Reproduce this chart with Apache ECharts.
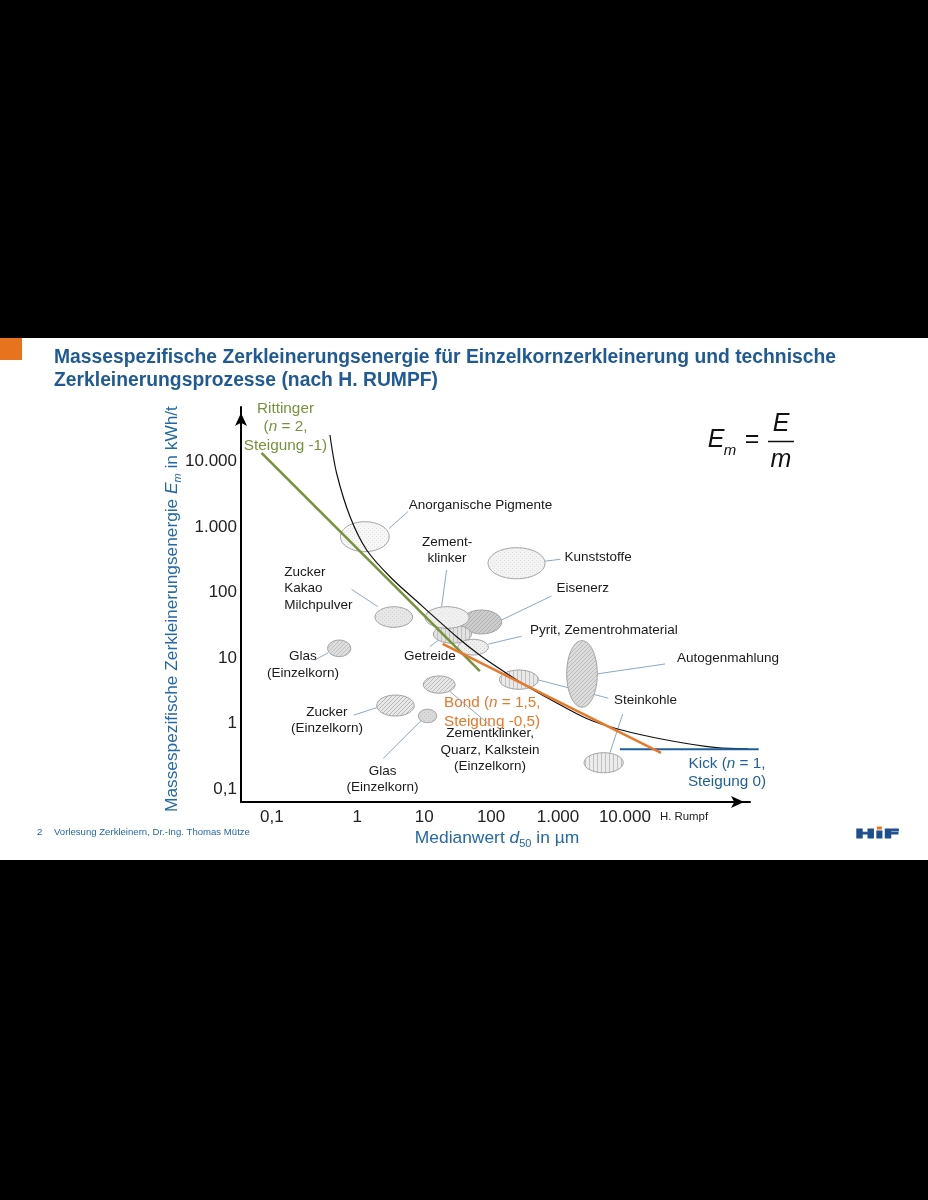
<!DOCTYPE html>
<html><head><meta charset="utf-8">
<script src="https://cdn.jsdelivr.net/npm/echarts@6/dist/echarts.min.js"></script>
<style>html,body{margin:0;padding:0;background:#000;}#c{width:928px;height:1200px;}</style>
</head><body><div id="c"></div>
<script>
// ---------------- data ----------------
const xTickValues = [0.1, 1, 10, 100, 1000, 10000];
const xTickLabels = ['0,1', '1', '10', '100', '1.000', '10.000'];
const yTickValues = [0.1, 1, 10, 100, 1000, 10000];
const yTickLabels = ['0,1', '1', '10', '100', '1.000', '10.000'];

// Rumpf curve (black)
const rumpfD = [0.39, 0.49, 0.78, 1.38, 3.08, 7.7, 30.6, 68, 171, 381, 760, 2680, 8300, 42000, 235000, 700000];
const rumpfE = [25400, 6670, 1436, 446, 174, 74, 21.1, 11.0, 5.82, 3.48, 2.34, 1.19, 0.81, 0.56, 0.427, 0.41];
// Rittinger (n = 2)
const rittD = [0.037, 68];
const rittE = [13500, 6.3];
// Bond (n = 1,5)
const bondD = [18.9, 34700];
const bondE = [16.4, 0.355];
// Kick (n = 1)
const kickD = [8400, 1000000];
const kickE = [0.404, 0.404];

// Material regions: median size range (µm) and energy range (kWh/t)
const materials = ['Anorganische Pigmente', 'Kunststoffe', 'Eisenerz', 'Getreide', 'Pyrit, Zementrohmaterial',
  'Zementklinker', 'Zucker, Kakao, Milchpulver', 'Glas (Einzelkorn)', 'Zucker (Einzelkorn)', 'Glas (Einzelkorn)',
  'Zementklinker, Quarz, Kalkstein (Einzelkorn)', 'Steinkohle', 'Autogenmahlung', 'Steinkohle'];
const dMin = [0.56, 90, 36, 13.7, 32, 10.3, 1.84, 0.36, 1.95, 8.2, 9.7, 133, 1350, 2450];
const dMax = [3.0, 640, 144, 51, 91, 47, 6.7, 0.8, 7.1, 15.4, 29, 508, 3870, 9460];
const eMin = [420, 162, 23.3, 16.8, 11.1, 28.4, 29.4, 10.5, 1.3, 1.03, 2.9, 3.33, 1.77, 0.177];
const eMax = [1205, 483, 54, 31.9, 19.3, 60.7, 60.7, 18.8, 2.72, 1.65, 5.31, 6.56, 18.4, 0.358];

// ---------------- layout / styles (kept separate from data) ----------------
const labelLayout = [
  {text: 'Anorganische Pigmente', dx: 44, dy: -31, align: 'left', leader: [24, -8, 43, -25]},
  {text: 'Kunststoffe', dx: 48, dy: -6, align: 'left', leader: [28, -2, 44, -4]},
  {text: 'Eisenerz', dx: 75, dy: -34, align: 'left', leader: [20, -2, 70, -26]},
  {text: 'Getreide', dx: -22.5, dy: 22.5, align: 'center', leader: [-14, 6, -22.5, 12.5]},
  {text: 'Pyrit, Zementrohmaterial', dx: 56.7, dy: -17, align: 'left', leader: [15, -3, 48.4, -11]},
  {text: 'Zement-\nklinker', dx: 0, dy: -67, align: 'center', leader: [-5.5, -11, -0.5, -47.5]},
  {text: 'Zucker\nKakao\nMilchpulver', dx: -109.6, dy: -28.3, align: 'left', leader: [-42.2, -27.7, -16, -10.3]},
  {text: 'Glas\n(Einzelkorn)', dx: -36.3, dy: 16.7, align: 'center', leader: [-24.3, 11.7, -11, 4.4]},
  {text: 'Zucker\n(Einzelkorn)', dx: -68.5, dy: 14.5, align: 'center', leader: [-41.5, 9.5, -17.8, 1.8]},
  {text: 'Glas\n(Einzelkorn)', dx: -45, dy: 63.2, align: 'center', leader: [-44.2, 42.3, -5.8, 4]},
  {text: 'Zementklinker,\nQuarz, Kalkstein\n(Einzelkorn)', dx: 50.8, dy: 65.3, align: 'center', leader: [10.8, 7, 52.5, 42]},
  {text: 'Steinkohle', dx: 95.2, dy: 20.3, align: 'left', leader: [19.5, 0.3, 89.5, 18.6]},
  {text: 'Autogenmahlung', dx: 95, dy: -16, align: 'left', leader: [14.7, 0, 83, -10]},
  {text: '', dx: 0, dy: 0, align: 'left', leader: [6.3, -10, 19, -48.7]}
];
const fillStyles = [
  {bg: '#f7f7f7', ink: '#e4e4e4', kind: 'dots'},
  {bg: '#f3f3f3', ink: '#e0e0e0', kind: 'dots'},
  {bg: '#cdcdcd', ink: '#b2b2b2', kind: 'diag'},
  {bg: '#e2e2e2', ink: '#c0c0c0', kind: 'vert'},
  {bg: '#eeeeee', ink: '#d4d4d4', kind: 'dots'},
  {bg: '#f0f0f0', ink: '#e2e2e2', kind: 'dots'},
  {bg: '#e7e7e7', ink: '#d4d4d4', kind: 'dots'},
  {bg: '#dedede', ink: '#c0c0c0', kind: 'diag'},
  {bg: '#e8e8e8', ink: '#b8b8b8', kind: 'diag'},
  {bg: '#d9d9d9', ink: '#c6c6c6', kind: 'dots'},
  {bg: '#e6e6e6', ink: '#bcbcbc', kind: 'diag'},
  {bg: '#e9e9e9', ink: '#c2c2c2', kind: 'vert'},
  {bg: '#dcdcdc', ink: '#bbbbbb', kind: 'diag'},
  {bg: '#ececec', ink: '#c0c0c0', kind: 'vert'}
];

const FONT = '"Liberation Sans", Arial, sans-serif';
const BLUE = '#2468a8';
const TITLE_BLUE = '#1f5a96';
const GREEN = '#76923c';
const ORANGE = '#e8782a';
const KICK_BLUE = '#1f5f99';

function makePattern(s) {
  const c = document.createElement('canvas');
  const n = 4;
  c.width = n; c.height = n;
  const g = c.getContext('2d');
  g.fillStyle = s.bg; g.fillRect(0, 0, n, n);
  g.strokeStyle = s.ink; g.fillStyle = s.ink; g.lineWidth = 1;
  if (s.kind === 'diag') {
    g.beginPath();
    g.moveTo(-1, 1); g.lineTo(1, -1);
    g.moveTo(0, n); g.lineTo(n, 0);
    g.moveTo(n - 1, n + 1); g.lineTo(n + 1, n - 1);
    g.stroke();
  } else if (s.kind === 'vert') {
    g.fillRect(1, 0, 1, n);
  } else {
    g.fillRect(0, 0, 1, 1); g.fillRect(2, 2, 1, 1);
  }
  return {image: c, repeat: 'repeat'};
}
const patterns = fillStyles.map(makePattern);

const mctx = document.createElement('canvas').getContext('2d');
function measure(text, font) { mctx.font = font; return mctx.measureText(text).width; }

function zip(a, b) { return a.map((v, i) => [v, b[i]]); }
const materialData = materials.map((m, i) => ({name: m, value: [dMin[i], dMax[i], eMin[i], eMax[i]]}));

function tickFormatter(values, labels, richFirst) {
  return function (v) {
    const lv = Math.log10(v);
    const idx = values.findIndex(t => Math.abs(Math.log10(t) - lv) < 1e-6);
    if (idx < 0) return '';
    if (richFirst && idx === 0) return '{l|' + labels[idx] + '}';
    return labels[idx];
  };
}

function renderMaterial(params, api) {
  const i = params.dataIndex;
  const p1 = api.coord([api.value(0), api.value(3)]);
  const p2 = api.coord([api.value(1), api.value(2)]);
  const cx = (p1[0] + p2[0]) / 2, cy = (p1[1] + p2[1]) / 2;
  const rx = Math.abs(p2[0] - p1[0]) / 2, ry = Math.abs(p2[1] - p1[1]) / 2;
  const L = labelLayout[i];
  const children = [];
  if (L.leader) {
    children.push({type: 'line', shape: {x1: cx + L.leader[0], y1: cy + L.leader[1], x2: cx + L.leader[2], y2: cy + L.leader[3]},
      style: {stroke: '#8ea8c2', lineWidth: 1}});
  }
  children.push({type: 'ellipse', shape: {cx: cx, cy: cy, rx: rx, ry: ry},
    style: {fill: patterns[i], stroke: '#a3a3a3', lineWidth: 1}});
  if (L.text) {
    children.push({type: 'text', x: cx + L.dx, y: cy + L.dy,
      style: {text: L.text, fill: '#1a1a1a', fontSize: 13.5, fontFamily: FONT, align: L.align, verticalAlign: 'middle', lineHeight: 16.5}});
  }
  return {type: 'group', children: children};
}

// Kick line: drawn as an unclipped segment (it runs a little past the axis arrow, as in the original)
function renderKick(params, api) {
  if (params.dataIndex !== 0) return null;
  const pts = kickD.map((d, i) => api.coord([d, kickE[i]]));
  return {type: 'polyline', shape: {points: pts}, style: {stroke: KICK_BLUE, lineWidth: 2, fill: 'none'}};
}

// title scaling (slide font is condensed)
const titleLine1 = 'Massespezifische Zerkleinerungsenergie für Einzelkornzerkleinerung und technische';
const titleLine2 = 'Zerkleinerungsprozesse (nach H. RUMPF)';
const titleFont = 'bold 20px ' + FONT;
const titleScale = 782 / measure(titleLine1, titleFont);

const footerText = 'Vorlesung Zerkleinern, Dr.-Ing. Thomas Mütze';
const footerSize = 10 * 196 / measure(footerText, '10px ' + FONT);

const LOGO_FONT_FAMILY = '"DejaVu Sans", sans-serif';
const logoFont = 'bold 11.5px ' + LOGO_FONT_FAMILY;
const logoScale = 45 / measure('HıF', logoFont);
const logoDotX = 855 + (measure('H', logoFont) + measure('ı', logoFont) / 2) * logoScale;

function rt(size, style, weight, color) {
  return {fontSize: size, fontFamily: FONT, fontStyle: style || 'normal', fontWeight: weight || 'normal', fill: color};
}

const graphic = [
  {type: 'rect', z: -100, shape: {x: 0, y: 338, width: 928, height: 522}, style: {fill: '#ffffff'}},
  {type: 'rect', shape: {x: 0, y: 338, width: 22, height: 22}, style: {fill: '#e8731e'}},
  {type: 'text', x: 54, y: 357, scaleX: titleScale, style: {text: titleLine1, font: titleFont, fill: TITLE_BLUE, align: 'left', verticalAlign: 'middle'}},
  {type: 'text', x: 54, y: 380, scaleX: titleScale, style: {text: titleLine2, font: titleFont, fill: TITLE_BLUE, align: 'left', verticalAlign: 'middle'}},
  // axis names
  {type: 'text', x: 172, y: 609, rotation: Math.PI / 2, style: {
    text: '{a|Massespezifische Zerkleinerungsenergie }{i|E}{s|m}{a| in kWh/t}',
    align: 'center', verticalAlign: 'middle',
    rich: {a: Object.assign(rt(17.3, 'normal', 'normal', BLUE), {lineHeight: 22}),
           i: Object.assign(rt(17.3, 'italic', 'normal', BLUE), {lineHeight: 22}),
           s: Object.assign(rt(11, 'italic', 'normal', BLUE), {lineHeight: 12, verticalAlign: 'bottom'})}}},
  {type: 'text', x: 497, y: 838, style: {
    text: '{a|Medianwert }{i|d}{s|50}{a| in µm}',
    align: 'center', verticalAlign: 'middle',
    rich: {a: Object.assign(rt(17.4, 'normal', 'normal', BLUE), {lineHeight: 22}),
           i: Object.assign(rt(17.4, 'italic', 'normal', BLUE), {lineHeight: 22}),
           s: Object.assign(rt(11, 'normal', 'normal', BLUE), {lineHeight: 12, verticalAlign: 'bottom'})}}},
  {type: 'text', x: 660, y: 817, style: {text: 'H. Rumpf', fontSize: 11.4, fontFamily: FONT, fill: '#222', align: 'left', verticalAlign: 'middle'}},
  // curve labels
  {type: 'text', x: 285.5, y: 427, style: {
    text: '{a|Rittinger}\n{a|(}{i|n}{a| = 2,}\n{a|Steigung -1)}', align: 'center', verticalAlign: 'middle',
    rich: {a: Object.assign(rt(15.3, 'normal', 'normal', GREEN), {lineHeight: 18.4}),
           i: Object.assign(rt(15.3, 'italic', 'normal', GREEN), {lineHeight: 18.4})}}},
  {type: 'text', x: 444, y: 712.2, style: {
    text: '{a|Bond (}{i|n}{a| = 1,5,}\n{a|Steigung -0,5)}', align: 'left', verticalAlign: 'middle',
    rich: {a: Object.assign(rt(15.3, 'normal', 'normal', ORANGE), {lineHeight: 19}),
           i: Object.assign(rt(15.3, 'italic', 'normal', ORANGE), {lineHeight: 19})}}},
  {type: 'text', x: 727, y: 772.5, style: {
    text: '{a|Kick (}{i|n}{a| = 1,}\n{a|Steigung 0)}', align: 'center', verticalAlign: 'middle',
    rich: {a: Object.assign(rt(15.3, 'normal', 'normal', KICK_BLUE), {lineHeight: 18.4}),
           i: Object.assign(rt(15.3, 'italic', 'normal', KICK_BLUE), {lineHeight: 18.4})}}},
  // formula E_m = E / m
  {type: 'text', x: 716, y: 440, style: {text: 'E', fontSize: 25, fontStyle: 'italic', fontFamily: FONT, fill: '#111', align: 'center', verticalAlign: 'middle'}},
  {type: 'text', x: 730, y: 451, style: {text: 'm', fontSize: 15, fontStyle: 'italic', fontFamily: FONT, fill: '#111', align: 'center', verticalAlign: 'middle'}},
  {type: 'text', x: 752, y: 440, style: {text: '=', fontSize: 25, fontFamily: FONT, fill: '#111', align: 'center', verticalAlign: 'middle'}},
  {type: 'text', x: 781, y: 424, style: {text: 'E', fontSize: 25, fontStyle: 'italic', fontFamily: FONT, fill: '#111', align: 'center', verticalAlign: 'middle'}},
  {type: 'line', shape: {x1: 768, y1: 441.5, x2: 794, y2: 441.5}, style: {stroke: '#111', lineWidth: 1.5}},
  {type: 'text', x: 781, y: 460, style: {text: 'm', fontSize: 25, fontStyle: 'italic', fontFamily: FONT, fill: '#111', align: 'center', verticalAlign: 'middle'}},
  // footer
  {type: 'text', x: 37, y: 832, style: {text: '2', fontSize: footerSize, fontFamily: FONT, fill: BLUE, align: 'left', verticalAlign: 'middle'}},
  {type: 'text', x: 54, y: 832, style: {text: footerText, fontSize: footerSize, fontFamily: FONT, fill: BLUE, align: 'left', verticalAlign: 'middle'}},
  // logo
  {type: 'text', x: 855, y: 834.7, scaleX: logoScale, style: {text: 'HıF', font: logoFont, fill: '#1f4e8c', stroke: '#1f4e8c', lineWidth: 0.9, align: 'left', verticalAlign: 'middle'}},
  {type: 'rect', shape: {x: logoDotX - 2.5, y: 826.5, width: 5, height: 3}, style: {fill: '#e8731e'}}
];

const chart = echarts.init(document.getElementById('c'), null, {renderer: 'canvas'});
chart.setOption({
  backgroundColor: '#000',
  animation: false,
  grid: {left: 241, top: 407, width: 509, height: 395, containLabel: false, outerBoundsMode: 'none'},
  xAxis: {
    type: 'log', logBase: 10,
    min: Math.pow(10, -1.7384), max: Math.pow(10, 5.870),
    axisLine: {onZero: false, lineStyle: {color: '#000', width: 2}, symbol: ['none', 'arrow'], symbolSize: [9, 13], symbolOffset: [0, -6]},
    axisTick: {show: false}, minorTick: {show: false}, splitLine: {show: false},
    axisLabel: {formatter: tickFormatter(xTickValues, xTickLabels, true), fontSize: 17, fontFamily: FONT, color: '#222', margin: 7,
      showMinLabel: true, showMaxLabel: true, hideOverlap: false,
      rich: {l: {padding: [0, 37, 0, 0], fontSize: 17, fontFamily: FONT, color: '#222'}}}
  },
  yAxis: {
    type: 'log', logBase: 10,
    min: Math.pow(10, -1.1985), max: Math.pow(10, 4.832),
    axisLine: {onZero: false, lineStyle: {color: '#000', width: 2}, symbol: ['none', 'arrow'], symbolSize: [9, 13], symbolOffset: [0, -6]},
    axisTick: {show: false}, minorTick: {show: false}, splitLine: {show: false},
    axisLabel: {formatter: tickFormatter(yTickValues, yTickLabels, false), fontSize: 17, fontFamily: FONT, color: '#222', margin: 4,
      hideOverlap: false}
  },
  graphic: graphic,
  series: [
    {type: 'custom', name: 'Materialien', coordinateSystem: 'cartesian2d', renderItem: renderMaterial,
      encode: {x: [0, 1], y: [2, 3]}, data: materialData, z: 2, silent: true},
    {type: 'line', name: 'Rumpf', data: zip(rumpfD, rumpfE), smooth: 0.3, symbol: 'none',
      lineStyle: {color: '#111', width: 1.2}, z: 3},
    {type: 'line', name: 'Rittinger', data: zip(rittD, rittE), symbol: 'none', lineStyle: {color: GREEN, width: 2.5}, z: 4},
    {type: 'line', name: 'Bond', data: zip(bondD, bondE), symbol: 'none', lineStyle: {color: ORANGE, width: 2.5}, z: 4},
    {type: 'custom', name: 'Kick', coordinateSystem: 'cartesian2d', renderItem: renderKick, clip: false,
      encode: {x: 0, y: 1}, data: zip(kickD, kickE), z: 4, silent: true}
  ]
});
</script>
</body></html>
